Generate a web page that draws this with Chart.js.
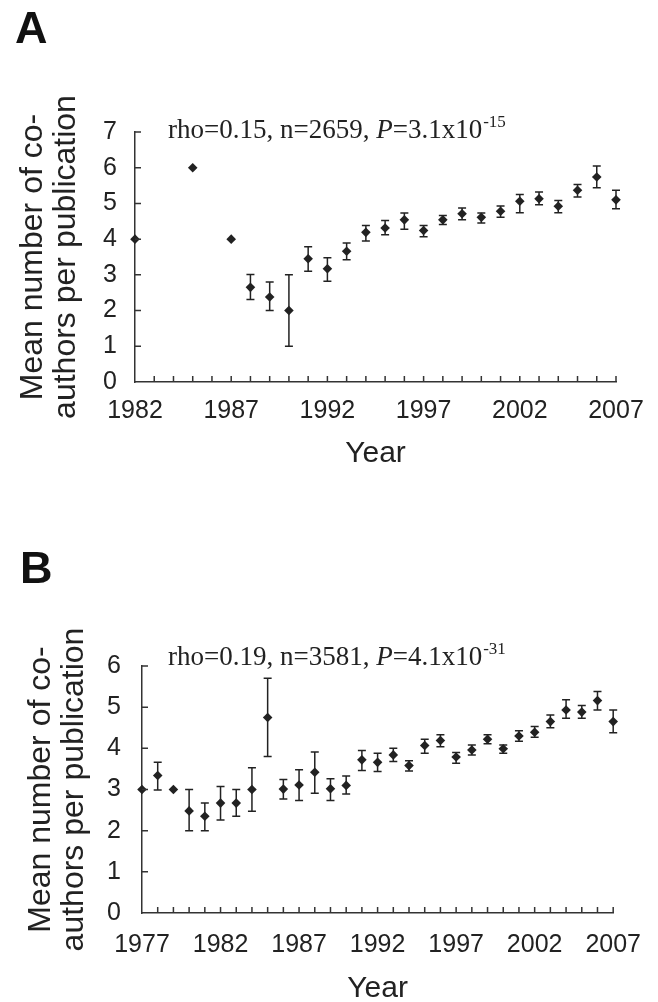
<!DOCTYPE html>
<html>
<head>
<meta charset="utf-8">
<script src="https://cdn.jsdelivr.net/npm/chart.js@4.4.1/dist/chart.umd.min.js"></script>
<style>
  html, body { margin:0; padding:0; background:#fff; overflow:hidden; }
  canvas { position:absolute; left:0; }
  #chartA { top:0; }
  #chartB { top:520px; }
</style>
</head>
<body>
<canvas id="chartA" width="658" height="470"></canvas>
<canvas id="chartB" width="658" height="482"></canvas>
<script>
// co-author counts per year, mean with error bar ends

const INK = '#222';
const AXIS = '#333';
const SANS = '"Liberation Sans", Arial, Helvetica, sans-serif';
const SERIF = '"Liberation Serif", "Times New Roman", serif';

const Y_TITLE = ['Mean number of co-', 'authors per publication'];
const X_TITLE = 'Year';

// panel A
const YEARS_A = [1982,1985,1987,1988,1989,1990,1991,1992,1993,1994,1995,1996,1997,1998,1999,2000,2001,2002,2003,2004,2005,2006,2007];
const MEAN_A  = [4.00,6.00,4.00,2.65,2.38,2.00,3.45,3.17,3.66,4.19,4.31,4.54,4.24,4.54,4.71,4.61,4.78,5.06,5.13,4.92,5.37,5.74,5.10];
const LOW_A   = [null,null,null,2.31,2.00,1.00,3.10,2.82,3.42,3.95,4.12,4.28,4.07,4.41,4.54,4.45,4.61,4.74,4.96,4.74,5.18,5.44,4.85];
const HIGH_A  = [null,null,null,3.01,2.80,3.00,3.79,3.48,3.89,4.38,4.52,4.73,4.38,4.66,4.87,4.73,4.93,5.25,5.32,5.08,5.53,6.05,5.37];
const XTICKS_A = [1982,1987,1992,1997,2002,2007];
const YTICKS_A = [0,1,2,3,4,5,6,7];
const STATS_A = ['rho=0.15, n=2659, ', 'P', '=3.1x10', '-15'];

// panel B
const YEARS_B = [1977,1978,1979,1980,1981,1982,1983,1984,1985,1986,1987,1988,1989,1990,1991,1992,1993,1994,1995,1996,1997,1998,1999,2000,2001,2002,2003,2004,2005,2006,2007];
const MEAN_B  = [3.00,3.34,3.00,2.48,2.35,2.67,2.67,3.00,4.75,3.01,3.11,3.42,3.02,3.10,3.72,3.66,3.84,3.58,4.07,4.19,3.79,3.96,4.22,3.99,4.30,4.39,4.65,4.93,4.88,5.16,4.65];
const LOW_B   = [null,2.99,null,2.00,2.00,2.26,2.35,2.47,3.80,2.77,2.73,2.91,2.73,2.89,3.46,3.44,3.68,3.45,3.88,4.04,3.64,3.84,4.11,3.88,4.17,4.27,4.50,4.73,4.73,4.93,4.38];
const HIGH_B  = [null,3.66,null,3.00,2.67,3.07,3.00,3.53,5.70,3.24,3.48,3.91,3.26,3.33,3.95,3.88,4.00,3.70,4.22,4.33,3.90,4.08,4.33,4.08,4.43,4.53,4.81,5.18,5.04,5.38,4.93];
const XTICKS_B = [1977,1982,1987,1992,1997,2002,2007];
const YTICKS_B = [0,1,2,3,4,5,6];
const STATS_B = ['rho=0.19, n=3581, ', 'P', '=4.1x10', '-31'];

// vertical error bars with caps, drawn under the markers
const errorBars = {
  id:'errorBars',
  beforeDatasetsDraw(chart){
    const { ctx, scales:{ x, y } } = chart;
    chart.data.datasets.forEach(ds=>{
      if(!ds.lo) return;
      ctx.save();
      ctx.strokeStyle = INK;
      ctx.lineWidth = 1.5;
      ds.data.forEach((p,i)=>{
        const lo = ds.lo[i], hi = ds.hi[i];
        if(lo==null || hi==null) return;
        const px = x.getPixelForValue(p.x);
        const y1 = y.getPixelForValue(lo);
        const y2 = y.getPixelForValue(hi);
        ctx.beginPath();
        ctx.moveTo(px, y1); ctx.lineTo(px, y2);
        ctx.moveTo(px-4, y1); ctx.lineTo(px+4, y1);
        ctx.moveTo(px-4, y2); ctx.lineTo(px+4, y2);
        ctx.stroke();
      });
      ctx.restore();
    });
  }
};

// small tick marks pointing into the plot: every year on x, every unit on y
const innerTicks = {
  id:'innerTicks',
  afterDraw(chart){
    const { ctx, scales:{ x, y } } = chart;
    const base = y.getPixelForValue(0);
    const left = x.getPixelForValue(x.min);
    ctx.save();
    ctx.strokeStyle = AXIS;
    ctx.lineWidth = 1.5;
    ctx.beginPath();
    for(let v=x.min+1; v<=x.max; v++){
      const px = x.getPixelForValue(v);
      ctx.moveTo(px, base); ctx.lineTo(px, base-6);
    }
    for(let v=y.min+1; v<=y.max; v++){
      const py = y.getPixelForValue(v);
      ctx.moveTo(left, py); ctx.lineTo(left+6, py);
    }
    ctx.stroke();
    ctx.restore();
  }
};

// panel letter and the correlation line above the points
const panelText = {
  id:'panelText',
  afterDraw(chart, args, opts){
    const ctx = chart.ctx;
    ctx.save();
    ctx.fillStyle = '#111';
    ctx.textBaseline = 'alphabetic';
    ctx.font = `bold 45px ${SANS}`;
    ctx.fillText(opts.letter, opts.letterX, opts.letterY);

    const [pre, pName, post, sup] = opts.stats;
    let cx = opts.statsX;
    const by = opts.statsY;
    ctx.fillStyle = INK;
    ctx.font = `27px ${SERIF}`;
    ctx.fillText(pre, cx, by); cx += ctx.measureText(pre).width;
    ctx.font = `italic 27px ${SERIF}`;
    ctx.fillText(pName, cx, by); cx += ctx.measureText(pName).width;
    ctx.font = `27px ${SERIF}`;
    ctx.fillText(post, cx, by); cx += ctx.measureText(post).width;
    ctx.font = `17px ${SERIF}`;
    ctx.fillText(sup, cx+1, by-11);
    ctx.restore();
  }
};

function makePanel(id, o){
  const points = o.years.map((yr,i)=>({ x:yr, y:o.mean[i] }));
  return new Chart(document.getElementById(id), {
    type:'scatter',
    data:{
      datasets:[{
        data:points,
        lo:o.lo,
        hi:o.hi,
        pointStyle:'rectRot',
        pointRadius:4.8,
        backgroundColor:INK,
        borderColor:INK,
        borderWidth:0,
        clip:false
      }]
    },
    options:{
      responsive:false,
      animation:false,
      events:[],
      layout:{ padding:{ left:0, right:o.padRight, top:o.padTop, bottom:0 } },
      plugins:{
        legend:{ display:false },
        tooltip:{ enabled:false },
        panelText:o.text
      },
      scales:{
        x:{
          type:'linear',
          min:o.xMin,
          max:o.xMax,
          grid:{ display:false, drawTicks:false },
          border:{ color:AXIS, width:1.5 },
          afterBuildTicks: s=>{ s.ticks = o.xTicks.map(v=>({ value:v })); },
          ticks:{
            color:INK, padding:o.xPad, maxRotation:0, autoSkip:false,
            font:{ family:SANS, size:25 },
            callback: v=>String(v)
          },
          title:{
            display:true, text:X_TITLE, color:INK, padding:{ top:0, bottom:o.xTitlePad },
            font:{ family:SANS, size:30, lineHeight:1.1 }
          },
          afterFit: s=>{ s.height = o.xH; }
        },
        y:{
          type:'linear',
          min:0,
          max:o.yMax,
          grid:{ display:false, drawTicks:false },
          border:{ color:AXIS, width:1.5 },
          afterBuildTicks: s=>{ s.ticks = o.yTicks.map(v=>({ value:v })); },
          ticks:{
            color:INK, padding:o.yPad,
            font:{ family:SANS, size:25 },
            callback: v=>String(v)
          },
          title:{
            display:true, text:Y_TITLE, color:INK, padding:{ top:o.yTitlePad, bottom:0 },
            font:{ family:SANS, size:32, lineHeight:'33px' }
          },
          afterFit: s=>{ s.width = o.yW; }
        }
      }
    },
    plugins:[errorBars, innerTicks, panelText]
  });
}

makePanel('chartA', {
  years:YEARS_A, mean:MEAN_A, lo:LOW_A, hi:HIGH_A,
  xMin:1982, xMax:2007, xTicks:XTICKS_A,
  yMax:7, yTicks:YTICKS_A,
  padTop:132, padRight:42, yW:135, xH:88,
  xPad:14, yPad:18, yTitlePad:17, xTitlePad:0,
  text:{ letter:'A', letterX:15, letterY:43, stats:STATS_A, statsX:168, statsY:138 }
});

makePanel('chartB', {
  years:YEARS_B, mean:MEAN_B, lo:LOW_B, hi:HIGH_B,
  xMin:1977, xMax:2007, xTicks:XTICKS_B,
  yMax:6, yTicks:YTICKS_B,
  padTop:146, padRight:37, yW:142, xH:89,
  xPad:17, yPad:21, yTitlePad:25, xTitlePad:-3,
  text:{ letter:'B', letterX:20, letterY:63, stats:STATS_B, statsX:168, statsY:145 }
});
</script>
</body>
</html>
